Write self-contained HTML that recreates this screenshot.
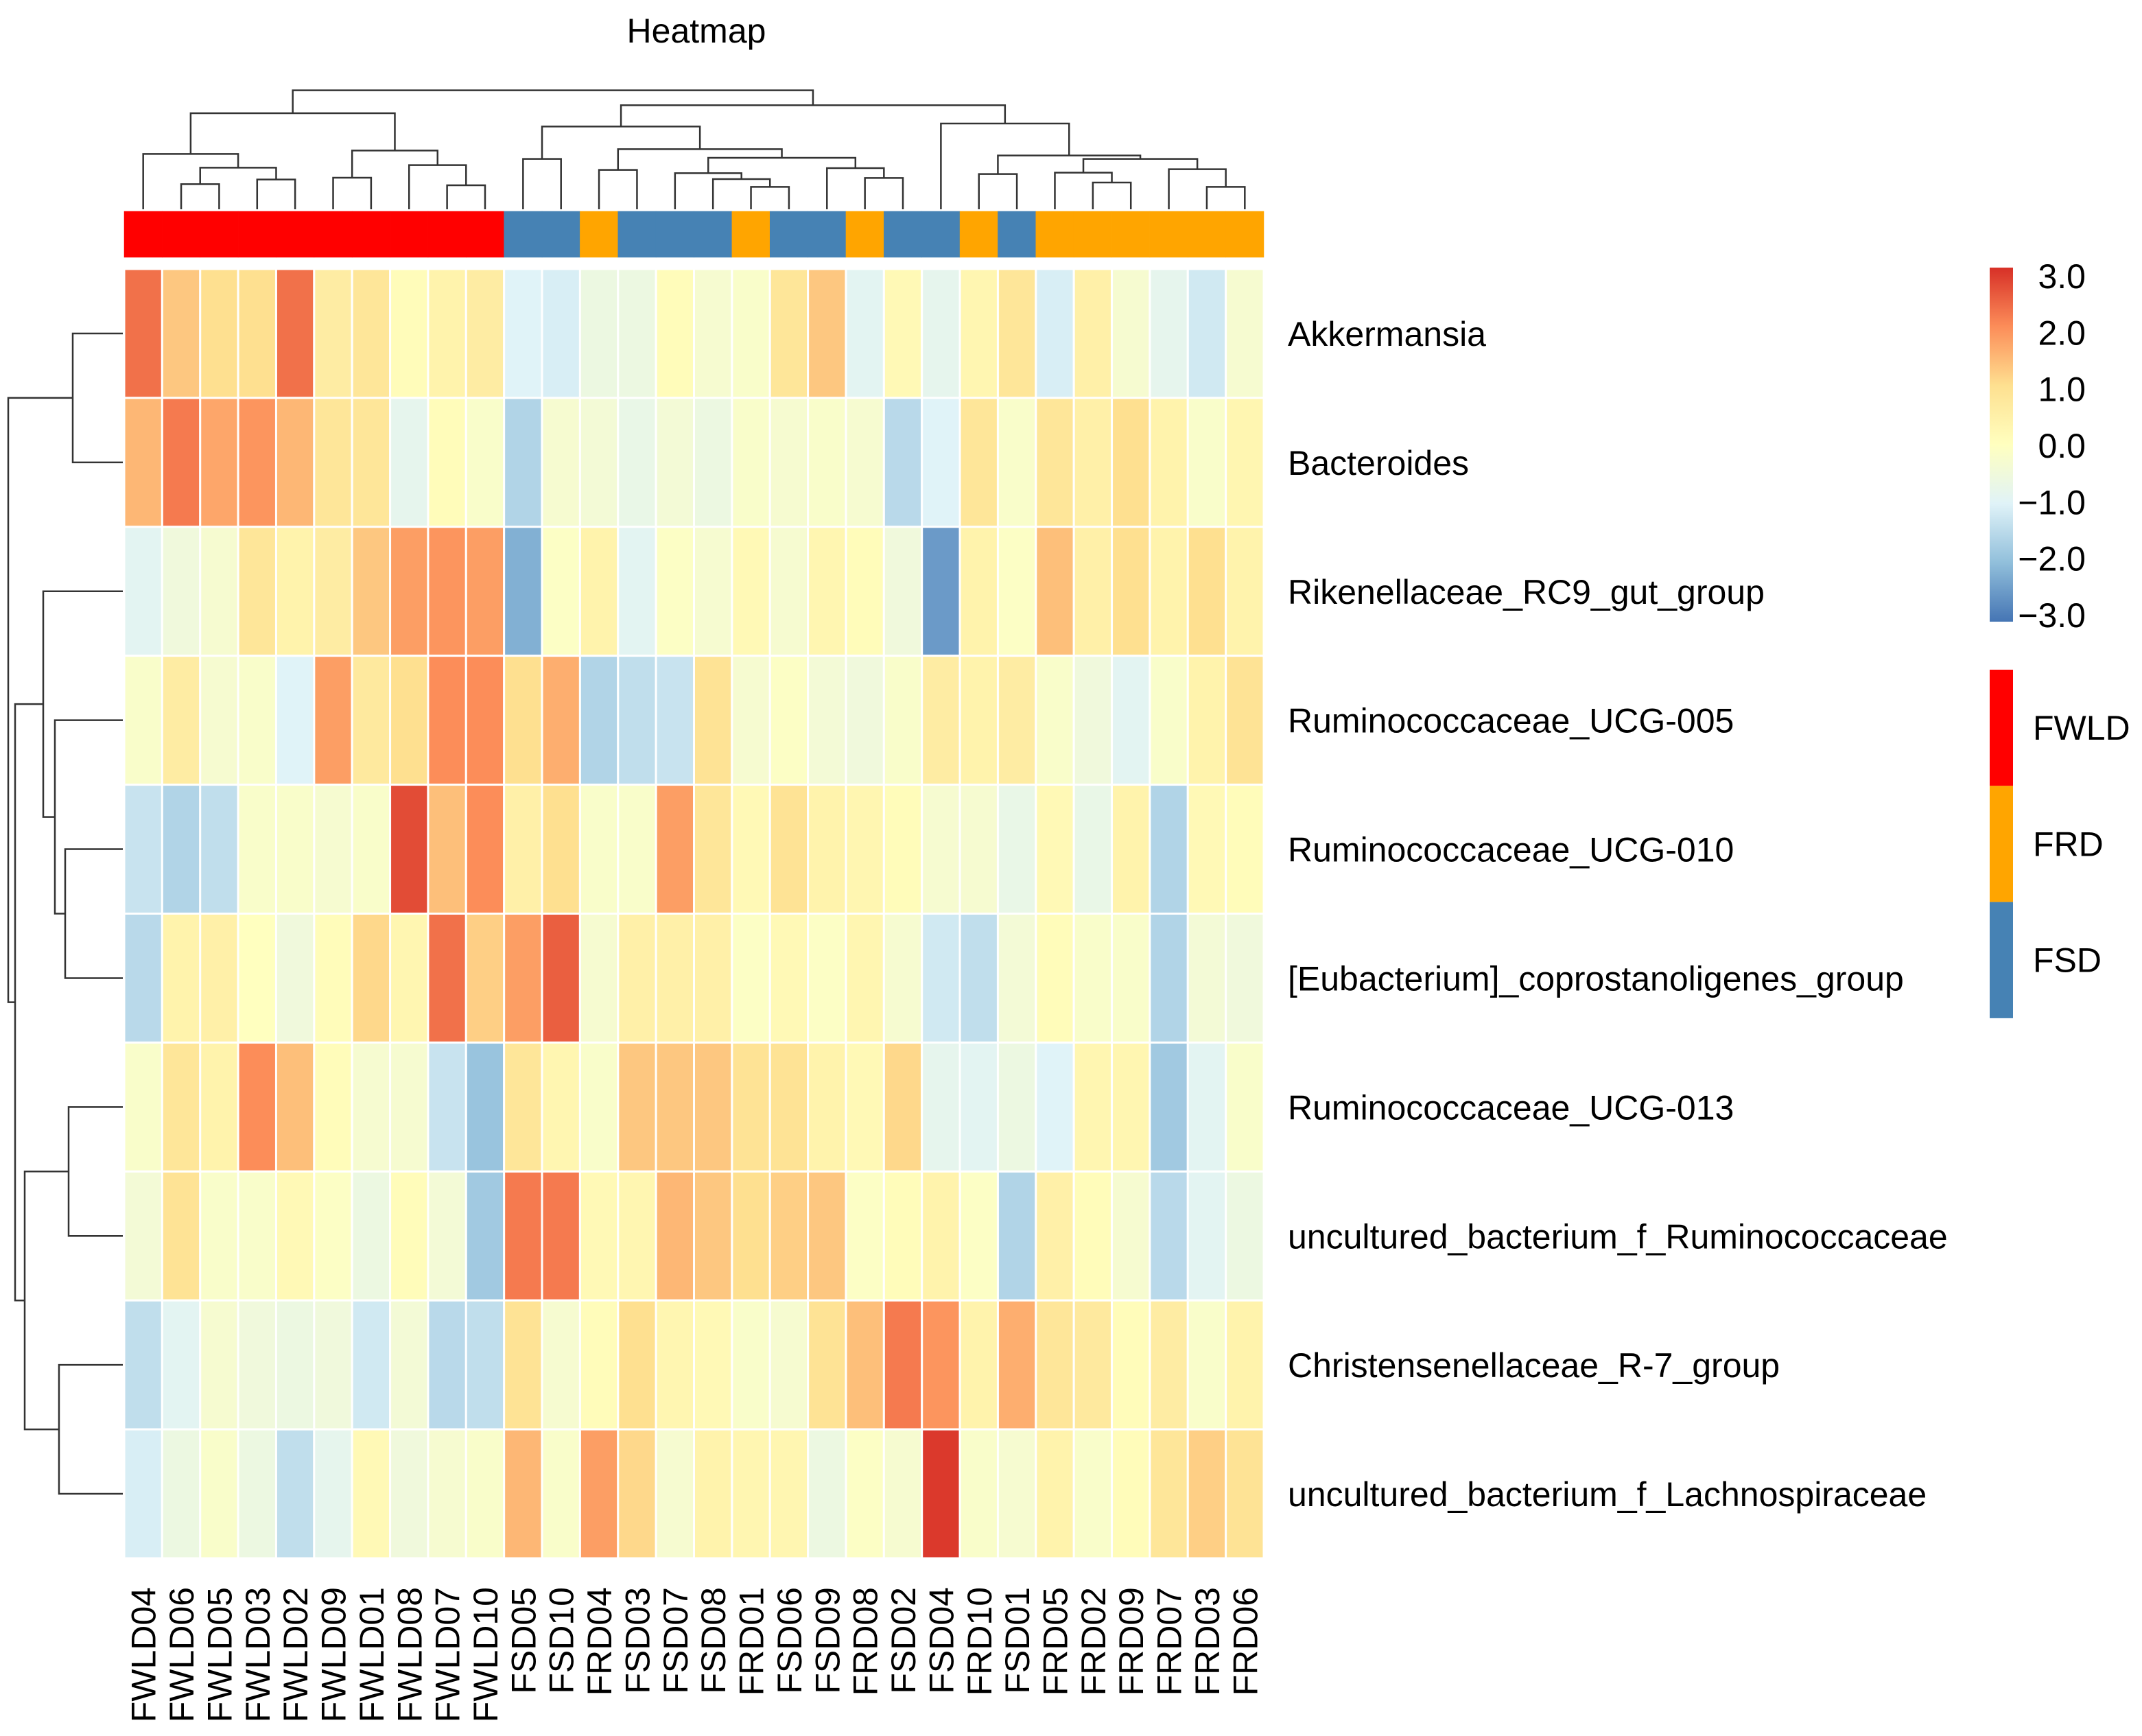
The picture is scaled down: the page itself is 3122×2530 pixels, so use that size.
<!DOCTYPE html>
<html><head><meta charset="utf-8"><style>
html,body{margin:0;padding:0;background:#fff;}
svg{display:block;font-family:"Liberation Sans",Arial,sans-serif;}
</style></head><body>
<svg id="chart" width="3122" height="2530" viewBox="0 0 3122 2530" xmlns="http://www.w3.org/2000/svg">
<rect width="3122" height="2530" fill="#fff"/>
<text x="1015" y="62" font-size="50" text-anchor="middle" fill="#000">Heatmap</text>
<g id="cells"></g>
<g id="annot"></g>
<g id="topdend"></g>
<g id="leftdend"></g>
<g id="rowlabels"></g>
<g id="collabels"></g>
<g id="legend"></g>
<g id="annlegend"></g>
</svg>
<script>
const columns = ["FWLD04","FWLD06","FWLD05","FWLD03","FWLD02","FWLD09","FWLD01","FWLD08","FWLD07","FWLD10","FSD05","FSD10","FRD04","FSD03","FSD07","FSD08","FRD01","FSD06","FSD09","FRD08","FSD02","FSD04","FRD10","FSD01","FRD05","FRD02","FRD09","FRD07","FRD03","FRD06"];
const groups = ["FWLD","FWLD","FWLD","FWLD","FWLD","FWLD","FWLD","FWLD","FWLD","FWLD","FSD","FSD","FRD","FSD","FSD","FSD","FRD","FSD","FSD","FRD","FSD","FSD","FRD","FSD","FRD","FRD","FRD","FRD","FRD","FRD"];
const rowsNames = ["Akkermansia","Bacteroides","Rikenellaceae_RC9_gut_group","Ruminococcaceae_UCG-005","Ruminococcaceae_UCG-010","[Eubacterium]_coprostanoligenes_group","Ruminococcaceae_UCG-013","uncultured_bacterium_f_Ruminococcaceae","Christensenellaceae_R-7_group","uncultured_bacterium_f_Lachnospiraceae"];
const vAkk = [2.3,1.3,1.0,1.0,2.3,0.6,0.8,0.1,0.4,0.6,-1.0,-1.1,-0.6,-0.6,0.1,-0.3,-0.2,0.8,1.3,-0.9,0.2,-0.8,0.3,0.8,-1.1,0.5,-0.3,-0.8,-1.2,-0.3];
const vBac = [1.5,2.2,1.7,1.9,1.5,0.8,0.8,-0.8,0.1,-0.2,-1.6,-0.3,-0.4,-0.7,-0.4,-0.6,-0.2,-0.3,-0.2,-0.3,-1.5,-1.0,0.8,-0.2,0.8,0.5,1.0,0.4,-0.2,0.3];
const vRik = [-0.9,-0.5,-0.3,0.8,0.4,0.6,1.3,1.8,1.9,1.8,-2.2,-0.1,0.4,-0.9,-0.1,-0.3,0.2,-0.3,0.3,0.1,-0.5,-2.5,0.4,-0.1,1.4,0.5,1.0,0.4,1.0,0.4];
const v005 = [-0.2,0.6,-0.3,-0.2,-1.0,1.8,0.7,1.0,2.0,2.0,1.0,1.6,-1.6,-1.4,-1.3,0.9,-0.3,-0.1,-0.4,-0.5,-0.2,0.6,0.4,0.6,-0.2,-0.5,-0.9,-0.2,0.4,0.9];
const v010 = [-1.3,-1.6,-1.4,-0.2,-0.2,-0.3,-0.2,2.7,1.4,2.0,0.5,1.0,-0.2,-0.2,1.8,0.8,0.2,0.9,0.4,0.3,0.1,-0.3,-0.3,-0.7,0.2,-0.7,0.4,-1.6,0.2,0.1];
const vEub = [-1.5,0.4,0.5,0.0,-0.5,0.1,1.1,0.3,2.3,1.2,1.8,2.5,-0.3,0.5,0.5,0.5,-0.1,0.2,-0.1,0.3,-0.3,-1.2,-1.4,-0.4,0.1,-0.2,-0.2,-1.6,-0.4,-0.5];
const v013 = [-0.2,0.8,0.4,2.0,1.4,0.1,-0.3,-0.3,-1.3,-1.9,0.8,0.3,-0.2,1.3,1.3,1.3,0.9,0.9,0.4,0.2,1.1,-0.8,-0.9,-0.6,-1.0,0.3,0.3,-1.8,-0.9,-0.2];
const vUncR = [-0.4,0.9,-0.2,-0.2,0.2,-0.1,-0.6,0.1,-0.4,-1.8,2.2,2.2,0.2,0.3,1.5,1.3,1.0,1.2,1.3,-0.1,0.1,0.4,-0.1,-1.6,0.5,0.1,-0.3,-1.5,-0.9,-0.6];
const vChr = [-1.4,-0.9,-0.3,-0.5,-0.6,-0.5,-1.2,-0.4,-1.5,-1.4,0.9,-0.3,0.1,1.0,0.3,0.2,-0.2,-0.3,0.9,1.4,2.2,1.9,0.4,1.6,0.8,0.7,0.1,0.6,-0.2,0.4];
const vLac = [-1.1,-0.6,-0.2,-0.6,-1.4,-0.8,0.2,-0.5,-0.3,-0.2,1.5,-0.2,1.8,1.1,-0.3,0.4,0.3,0.3,-0.6,-0.1,-0.3,2.9,-0.2,-0.3,0.4,-0.2,0.1,0.8,1.2,0.9];
const values = [vAkk,vBac,vRik,v005,v010,vEub,v013,vUncR,vChr,vLac];
const legendTicks = ["3.0","2.0","1.0","0.0","\u22121.0","\u22122.0","\u22123.0"];
const legendGroups = ["FWLD","FRD","FSD"];
const colTree = [[[0,[[1,2,110],[3,4,130],182],242],[[5,6,138],[7,[8,9,105],193],257],420],
  [[[10,11,220],[[12,13,172],[[14,[15,[16,17,98],132],158],[18,[19,20,137],180],225],263],362],
   [21,[[22,23,154],[[24,[25,26,117],160],[27,[28,29,98],175],220],235],375],455],520];
const rowTree = [[0,1,73],[[2,[3,[4,5,84],99],116],[[6,7,79],[8,9,93],143],157],167];

const NS="http://www.w3.org/2000/svg";
const X0=181, X1=1842, Y0=392, Y1=2271;
const CW=(X1-X0)/columns.length, RH=(Y1-Y0)/rowsNames.length;
const colX = i => X0 + i*CW;
const rowY = j => Y0 + j*RH;
const stops=["#4575B4","#91BFDB","#E0F3F8","#FFFFBF","#FEE090","#FC8D59","#D73027"];
function hex(h){return [1,3,5].map(k=>parseInt(h.substr(k,2),16));}
function color(v){
  let t=(Math.max(-3,Math.min(3,v))+3); let i=Math.min(5,Math.floor(t)); let f=t-i;
  const a=hex(stops[i]), b=hex(stops[i+1]);
  return "rgb("+a.map((c,k)=>Math.round(c+(b[k]-c)*f)).join(",")+")";
}
function el(tag,attrs,parent){const e=document.createElementNS(NS,tag);for(const k in attrs)e.setAttribute(k,attrs[k]);parent.appendChild(e);return e;}
const gC=document.getElementById("cells");
values.forEach((row,j)=>row.forEach((v,i)=>{
  const r=el("rect",{x:colX(i),y:rowY(j),width:CW,height:RH,fill:color(v),stroke:"#fff","stroke-width":3},gC);
  
  
}));
const gcol={FWLD:"#FF0000",FRD:"#FFA500",FSD:"#4682B4"};
const gA=document.getElementById("annot");
groups.forEach((g,i)=>{
  const r=el("rect",{x:colX(i),y:308,width:CW,height:67,fill:gcol[g],stroke:gcol[g],"stroke-width":0.5},gA);
  
  
});
function drawTree(node,parent,leafPos,hPos,horizontal){
  if(typeof node==="number") return {p:leafPos(node),h:0};
  const h=node[2];
  const a=drawTree(node[0],parent,leafPos,hPos,horizontal), b=drawTree(node[1],parent,leafPos,hPos,horizontal);
  let d;
  if(horizontal) d=`M${a.p},${hPos(a.h)}V${hPos(h)}H${b.p}V${hPos(b.h)}`;
  else d=`M${hPos(a.h)},${a.p}H${hPos(h)}V${b.p}H${hPos(b.h)}`;
  const pth=el("path",{d:d,fill:"none",stroke:"#333","stroke-width":2.5},parent);
  
  
  return {p:(a.p+b.p)/2,h:h};
}
drawTree(colTree,document.getElementById("topdend"),i=>colX(i)+CW/2,h=>305-h/3,true);
drawTree(rowTree,document.getElementById("leftdend"),j=>rowY(j)+RH/2,h=>179-h,false);
const gR=document.getElementById("rowlabels");
rowsNames.forEach((n,j)=>{
  const t=el("text",{x:1877,y:rowY(j)+RH/2+18,"font-size":50,fill:"#000"},gR);t.textContent=n;
  
  
});
const gL=document.getElementById("collabels");
columns.forEach((n,i)=>{
  const cx=colX(i)+CW/2+18;
  const t=el("text",{x:cx,y:2313,"font-size":50,fill:"#000","text-anchor":"end",transform:`rotate(-90 ${cx} 2313)`},gL);
  t.textContent=n;
  
  
});
const gLeg=document.getElementById("legend");
const defs=el("defs",{},gLeg);
const lg=el("linearGradient",{id:"grad",x1:0,y1:1,x2:0,y2:0},defs);
stops.forEach((s,k)=>el("stop",{offset:(k/6),"stop-color":s},lg));
const bar=el("rect",{x:2900,y:390,width:34,height:516,fill:"url(#grad)"},gLeg);


legendTicks.forEach((t,k)=>{
  const y=402+k*(896-402)/6;
  const tx=el("text",{x:3040,y:y+18,"font-size":50,"text-anchor":"end",fill:"#000"},gLeg);tx.textContent=t;
  
  
});
const gAL=document.getElementById("annlegend");
legendGroups.forEach((g,k)=>{
  const r=el("rect",{x:2900,y:976+k*169.3,width:34,height:169.3,fill:gcol[g]},gAL);
  
  
  const t=el("text",{x:2963,y:976+k*169.3+84+18,"font-size":50,fill:"#000"},gAL);t.textContent=g;
  
  
});
</script>
</body></html>
